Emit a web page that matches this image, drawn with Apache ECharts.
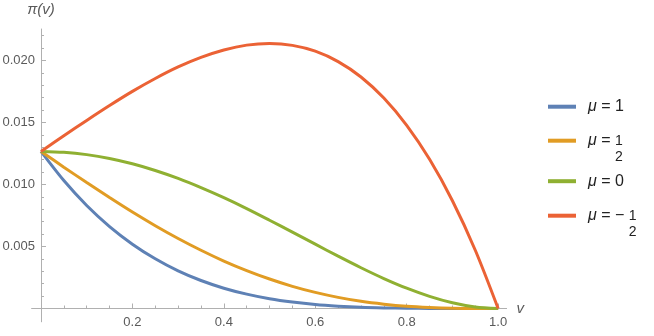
<!DOCTYPE html>
<html>
<head>
<meta charset="utf-8">
<script src="https://cdn.jsdelivr.net/npm/echarts@6/dist/echarts.min.js"></script>
<style>html,body{margin:0;padding:0;background:#fff}#c{width:654px;height:336px}</style>
</head>
<body>
<div id="c"></div>
<script>
const xValues = [0,0.05,0.1,0.15,0.2,0.25,0.3,0.35,0.4,0.45,0.5,0.55,0.6,0.65,0.7,0.75,0.8,0.85,0.9,0.95,1];
const blueValues = [0.01267,0.01032,0.00831,0.00661,0.00519,0.00401,0.00304,0.00226,0.00164,0.00116,0.00079,0.00052,0.00032,0.00019,0.00010,0.00005,0.00002,0.00001,0,0,0];
const orangeValues = [0.01267,0.01140,0.01016,0.00895,0.00778,0.00668,0.00565,0.00470,0.00383,0.00306,0.00238,0.00179,0.00130,0.00090,0.00058,0.00035,0.00018,0.00008,0.00002,0,0];
const greenValues = [0.01267,0.01260,0.01241,0.01210,0.01167,0.01113,0.01049,0.00975,0.00894,0.00806,0.00712,0.00616,0.00519,0.00422,0.00329,0.00242,0.00164,0.00098,0.00046,0.00012,0];
const redValues = [0.01267,0.01393,0.01517,0.01637,0.01751,0.01855,0.01948,0.02025,0.02085,0.02124,0.02137,0.02122,0.02075,0.01991,0.01867,0.01697,0.01477,0.01203,0.00869,0.00470,0];
const seriesNames = ['μ = 1','μ = 1/2','μ = 0','μ = −1/2'];
const seriesColors = ['#5E81B5','#E19C24','#8FB032','#EB6235'];
const xTickValues = [0.2,0.4,0.6,0.8,1.0];
const xTickLabels = ['0.2','0.4','0.6','0.8','1.0'];
const xMinorTicks = [0.05,0.1,0.15,0.25,0.3,0.35,0.45,0.5,0.55,0.65,0.7,0.75,0.85,0.9,0.95];
const yTickValues = [0.005,0.010,0.015,0.020];
const yTickLabels = ['0.005','0.010','0.015','0.020'];
const yMinorTicks = [0.001,0.002,0.003,0.004,0.006,0.007,0.008,0.009,0.011,0.012,0.013,0.014,0.016,0.017,0.018,0.019,0.021,0.022];

const FONT = '"Liberation Sans", Arial, sans-serif';
const AXIS = '#b0b0b0';
const LABEL = '#5a5a5a';

const allValues = [blueValues, orangeValues, greenValues, redValues];
const series = allValues.map((vals, i) => ({
  name: seriesNames[i],
  type: 'line',
  xAxisIndex: 0, yAxisIndex: 0,
  data: xValues.map((x, j) => [x, vals[j]]),
  showSymbol: false,
  smooth: 0.3,
  color: seriesColors[i],
  itemStyle: {color: seriesColors[i]},
  lineStyle: {width: 3, color: seriesColors[i]},
  animation: false
}));

const rich = {
  m: {fontFamily: FONT, fontStyle: 'italic', fontSize: 16, lineHeight: 18, color: '#222'},
  t: {fontFamily: FONT, fontSize: 16, lineHeight: 18, color: '#222'},
  n: {fontFamily: FONT, fontSize: 14, lineHeight: 18, color: '#222'},
  hm: {fontFamily: FONT, fontStyle: 'italic', fontSize: 16, lineHeight: 15, color: 'rgba(0,0,0,0)'},
  ht: {fontFamily: FONT, fontSize: 16, lineHeight: 15, color: 'rgba(0,0,0,0)'},
  d: {fontFamily: FONT, fontSize: 14, lineHeight: 15, color: '#222'}
};
const legendText = {
  'μ = 1': '{m|μ}{t| = 1}',
  'μ = 1/2': '{m|μ}{t| = }{n|1}\n{hm|μ}{ht| = }{d|2}',
  'μ = 0': '{m|μ}{t| = 0}',
  'μ = −1/2': '{m|μ}{t| = − }{n|1}\n{hm|μ}{ht| = − }{d|2}'
};
const legendTops = [98.7, 132.7, 173.2, 207.7];
const legends = seriesNames.map((nm, i) => {
  const frac = nm.indexOf('/') >= 0;
  return {
    data: [nm], left: 548, top: legendTops[i], orient: 'vertical', padding: 0,
    icon: 'rect', itemWidth: 28, itemHeight: 4, selectedMode: false,
    formatter: n => legendText[n],
    textStyle: {rich: rich, padding: frac ? [15, 0, 0, 7] : [0, 0, 0, 7]}
  };
});

const xMin = -0.0205, xMax = 1.0185, yMin = -0.00107, yMax = 0.02254;
// axes sit on zero: shift them inward from the grid edges
const X_OFF = -13.3, Y_OFF = -9.4;
const option = {
  animation: false,
  backgroundColor: '#fff',
  grid: {left: 31.6, right: 147.4, top: 29, bottom: 14.2, containLabel: false, outerBoundsMode: 'none'},
  legend: legends,
  xAxis: [{
    type: 'value', min: xMin, max: xMax, position: 'bottom', offset: X_OFF,
    name: 'v', nameLocation: 'end', nameGap: 10,
    nameTextStyle: {fontFamily: FONT, fontStyle: 'italic', fontSize: 15, color: LABEL},
    axisLine: {show: true, onZero: false, lineStyle: {color: AXIS, width: 1}},
    axisTick: {show: true, inside: true, length: 5, customValues: xTickValues, lineStyle: {color: AXIS}},
    axisLabel: {show: true, customValues: xTickValues, margin: 7, fontFamily: FONT, fontSize: 13, color: LABEL,
      formatter: v => xTickLabels[xTickValues.findIndex(t => Math.abs(t - v) < 1e-9)]},
    splitLine: {show: false}
  }, {
    type: 'value', min: xMin, max: xMax, position: 'bottom', offset: X_OFF,
    axisLine: {show: false, onZero: false},
    axisTick: {show: true, inside: true, length: 3, customValues: xMinorTicks, lineStyle: {color: AXIS}},
    axisLabel: {show: false},
    splitLine: {show: false}
  }],
  yAxis: [{
    type: 'value', min: yMin, max: yMax, position: 'left', offset: Y_OFF,
    name: 'π(v)', nameLocation: 'end', nameGap: 12,
    nameTextStyle: {fontFamily: FONT, fontStyle: 'italic', fontSize: 15, color: LABEL},
    axisLine: {show: true, onZero: false, lineStyle: {color: AXIS, width: 1}},
    axisTick: {show: true, inside: true, length: 5, customValues: yTickValues, lineStyle: {color: AXIS}},
    axisLabel: {show: true, customValues: yTickValues, margin: 6, fontFamily: FONT, fontSize: 13, color: LABEL,
      formatter: v => yTickLabels[yTickValues.findIndex(t => Math.abs(t - v) < 1e-9)]},
    splitLine: {show: false}
  }, {
    type: 'value', min: yMin, max: yMax, position: 'left', offset: Y_OFF,
    axisLine: {show: false, onZero: false},
    axisTick: {show: true, inside: true, length: 3, customValues: yMinorTicks, lineStyle: {color: AXIS}},
    axisLabel: {show: false},
    splitLine: {show: false}
  }],
  series: series
};
const chart = echarts.init(document.getElementById('c'), null, {renderer: 'canvas'});
chart.setOption(option);
</script>
</body>
</html>
